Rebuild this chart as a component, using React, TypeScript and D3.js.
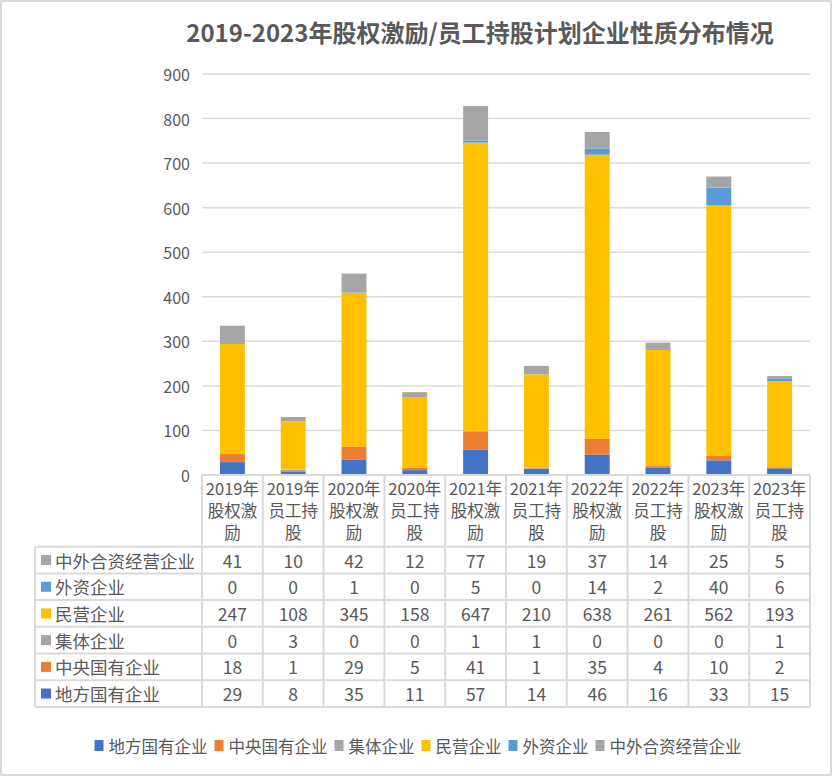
import * as d3 from 'd3';

const categories = [
  '2019年股权激励', '2019年员工持股', '2020年股权激励', '2020年员工持股', '2021年股权激励',
  '2021年员工持股', '2022年股权激励', '2022年员工持股', '2023年股权激励', '2023年员工持股',
];

const seriesNames = ['地方国有企业', '中央国有企业', '集体企业', '民营企业', '外资企业', '中外合资经营企业'];
const seriesColors = ['#4472C4', '#ED7D31', '#A5A5A5', '#FFC000', '#5B9BD5', '#A5A5A5'];

const localSoe = [29, 8, 35, 11, 57, 14, 46, 16, 33, 15];
const centralSoe = [18, 1, 29, 5, 41, 1, 35, 4, 10, 2];
const collective = [0, 3, 0, 0, 1, 1, 0, 0, 0, 1];
const privateCo = [247, 108, 345, 158, 647, 210, 638, 261, 562, 193];
const foreignCo = [0, 0, 1, 0, 5, 0, 14, 2, 40, 6];
const jointVenture = [41, 10, 42, 12, 77, 19, 37, 14, 25, 5];

const seriesValues = [localSoe, centralSoe, collective, privateCo, foreignCo, jointVenture];
const yTicks = [0, 100, 200, 300, 400, 500, 600, 700, 800, 900];

const title = '2019-2023年股权激励/员工持股计划企业性质分布情况';

const width = 833;
const height = 776;
const font = '"Noto Sans CJK SC", "Noto Sans", sans-serif';
const textColor = '#595959';
const lineColor = '#D9D9D9';

const plot = { left: 202, right: 810, top: 74, bottom: 475 };
const table = { labelLeft: 35, headerBottom: 546.7, rowHeight: 26.7 };

// "2019年股权激励" -> ["2019年", "股权激", "励"]
const splitLabel = (c: string) => {
  const year = c.slice(0, 5);
  const rest = c.slice(5);
  return [year, rest.slice(0, 3), rest.slice(3)];
};

const App = () => {
  const rows = categories.map((c, i) => {
    const r: Record<string, number | string> = { category: c };
    seriesNames.forEach((s, k) => (r[s] = seriesValues[k][i]));
    return r;
  });
  const stacked = d3.stack<Record<string, number | string>>().keys(seriesNames)(rows as any);

  const x = d3.scaleBand().domain(categories).range([plot.left, plot.right]).padding(0);
  const y = d3.scaleLinear().domain([0, 900]).range([plot.bottom, plot.top]);
  const barW = x.bandwidth() * 0.41;

  const tableRows = seriesNames.map((s, k) => ({ name: s, color: seriesColors[k], values: seriesValues[k] })).reverse();
  const tableBottom = table.headerBottom + table.rowHeight * tableRows.length;

  // legend layout
  const legendFont = 16.5;
  const markerW = 9;
  const items = seriesNames.map((s, k) => ({ name: s, color: seriesColors[k], w: markerW + 5 + s.length * legendFont }));
  const itemGap = 7;
  const legendTotal = d3.sum(items, d => d.w) + itemGap * (items.length - 1);
  let cursor = 418 - legendTotal / 2;
  const legendItems = items.map(it => {
    const pos = { ...it, x: cursor };
    cursor += it.w + itemGap;
    return pos;
  });

  return (
    <div style={{ position: 'absolute', left: 0, top: 0 }}>
      <svg width={width} height={height} viewBox={`0 0 ${width} ${height}`} fontFamily={font}>
        <rect x={0} y={0} width={width} height={height} fill="#fff" />
        <rect x={1} y={1} width={830} height={774} fill="none" stroke={lineColor} strokeWidth={2} />

        <text x={480} y={42} textAnchor="middle" fontSize={24} fontWeight="bold" fill={textColor}>
          {title}
        </text>

        {yTicks.map(t => (
          <g key={t}>
            {t > 0 && <line x1={plot.left} x2={plot.right} y1={y(t)} y2={y(t)} stroke={lineColor} strokeWidth={1.5} />}
            <text x={190} y={y(t)} textAnchor="end" dominantBaseline="central" fontSize={16} fill={textColor}>
              {t}
            </text>
          </g>
        ))}

        {stacked.map((layer, k) => (
          <g key={layer.key} fill={seriesColors[k]}>
            {layer.map((d, i) => (
              <rect
                key={i}
                x={(x(categories[i]) || 0) + (x.bandwidth() - barW) / 2}
                y={y(d[1])}
                width={barW}
                height={y(d[0]) - y(d[1])}
              />
            ))}
          </g>
        ))}

        {/* data table */}
        <g stroke={lineColor} strokeWidth={2} fill="none">
          <line x1={plot.left} x2={plot.right} y1={plot.bottom} y2={plot.bottom} />
          {categories.map(c => (
            <line key={c} x1={x(c)} x2={x(c)} y1={plot.bottom} y2={tableBottom} />
          ))}
          <line x1={plot.right} x2={plot.right} y1={plot.bottom} y2={tableBottom} />
          <line x1={table.labelLeft} x2={table.labelLeft} y1={table.headerBottom} y2={tableBottom} />
          {tableRows.map((r, j) => (
            <line
              key={r.name}
              x1={table.labelLeft}
              x2={plot.right}
              y1={table.headerBottom + j * table.rowHeight}
              y2={table.headerBottom + j * table.rowHeight}
            />
          ))}
          <line x1={table.labelLeft} x2={plot.right} y1={tableBottom} y2={tableBottom} />
        </g>

        {categories.map(c => (
          <text key={c} textAnchor="middle" fontSize={16.5} fill={textColor}>
            {splitLabel(c).map((ln, li) => (
              <tspan key={li} x={(x(c) || 0) + x.bandwidth() / 2} y={495 + li * 22}>
                {ln}
              </tspan>
            ))}
          </text>
        ))}

        {tableRows.map((r, j) => {
          const cy = table.headerBottom + j * table.rowHeight + table.rowHeight / 2;
          return (
            <g key={r.name}>
              <rect x={41} y={cy - 5} width={10} height={10} fill={r.color} />
              <text x={55} y={cy} dominantBaseline="central" fontSize={17.5} fill={textColor}>
                {r.name}
              </text>
              {r.values.map((v, i) => (
                <text
                  key={i}
                  x={(x(categories[i]) || 0) + x.bandwidth() / 2}
                  y={cy}
                  textAnchor="middle"
                  dominantBaseline="central"
                  fontSize={17.5}
                  fill={textColor}
                >
                  {v}
                </text>
              ))}
            </g>
          );
        })}

        {legendItems.map(it => (
          <g key={it.name}>
            <rect x={it.x} y={740} width={markerW} height={11} fill={it.color} />
            <text x={it.x + markerW + 5} y={746} dominantBaseline="central" fontSize={legendFont} fill={textColor}>
              {it.name}
            </text>
          </g>
        ))}
      </svg>
    </div>
  );
};

export default App;
